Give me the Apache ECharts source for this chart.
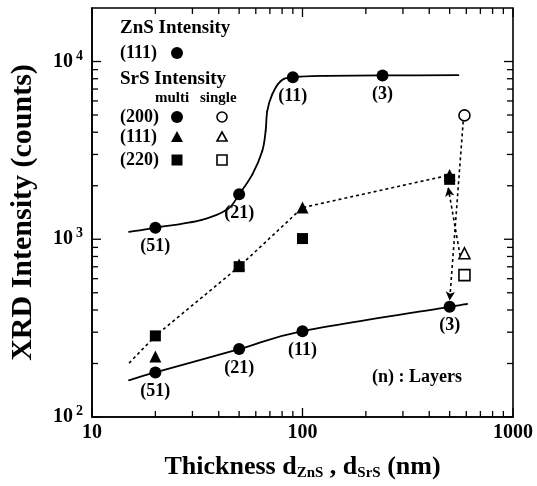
<!DOCTYPE html>
<html>
<head>
<meta charset="utf-8">
<script src="https://cdn.jsdelivr.net/npm/echarts@6/dist/echarts.min.js"></script>
<style>html,body{margin:0;padding:0;background:#fff}#c{width:537px;height:486px}</style>
</head>
<body>
<div id="c"></div>
<script>
// ---- data ----
const layers = [51, 21, 11, 3];

// ZnS (111) intensity, multilayer
const znsX = [20, 50, 90, 240];
const znsY = [1160, 1790, 8160, 8350];
// fitted guide curve for ZnS
const znsCurveX = [15, 20, 33, 44, 50, 57.8, 64.4, 66.8, 68, 71.8, 78.7, 90, 130, 240, 550];
const znsCurveY = [1100, 1160, 1283, 1474, 1790, 2318, 3134, 4058, 5256, 6527, 7749, 8160, 8300, 8350, 8380];

// SrS (200) multi
const srs200X = [20, 50, 100, 500];
const srs200Y = [178, 241, 304, 417];
const srsCurveX = [15, 20, 50, 100, 500, 600];
const srsCurveY = [161, 178, 241, 304, 417, 431];

// SrS (111) multi
const srs111X = [20, 50, 100, 500];
const srs111Y = [219, 720, 1507, 2297];
// SrS (220) multi
const srs220X = [20, 50, 100, 500];
const srs220Y = [286, 701, 1009, 2173];
// dotted guide through the multilayer SrS points
const guideX = [15, 20, 50, 100, 500];
const guideY = [201, 286, 701, 1507, 2297];

// single layer SrS
const singleX = 588;
const single200Y = 4975;
const single111Y = 834;
const single220Y = 628;

// arrows (start -> end)
const arrow1 = [[580, 4600], [500, 452]];
const arrow2 = [[561, 806], [492, 1960]];

// axes
const xMin = 10, xMax = 1000;
const yMin = 100, yMax = 20000;
const xDecades = [10, 100];
const yDecades = [100, 1000, 10000];
const minorMult = [2, 3, 4, 5, 6, 7, 8, 9];

const FONT = '"Liberation Serif", "Times New Roman", serif';

function zip(a, b) { return a.map((v, i) => [v, b[i]]); }

const xTicks = [];
xDecades.forEach(d => { xTicks.push([d, 0]); minorMult.forEach(m => xTicks.push([d * m, 1])); });
xTicks.push([1000, 0]);
const yTicks = [];
yDecades.forEach(d => { yTicks.push([d, 0]); minorMult.forEach(m => { if (d * m < yMax) yTicks.push([d * m, 1]); }); });

const chart = echarts.init(document.getElementById('c'), null, { renderer: 'canvas' });

function tickRender(isX) {
  return function (params, api) {
    const cs = params.coordSys;
    const v = api.value(0);
    const minor = api.value(1) === 1;
    const len = minor ? 6 : 9;
    const st = { stroke: '#000', lineWidth: 1.3 };
    if (isX) {
      const x = api.coord([v, 1000])[0];
      return { type: 'group', children: [
        { type: 'line', shape: { x1: x, y1: cs.y + cs.height, x2: x, y2: cs.y + cs.height - len }, style: st },
        { type: 'line', shape: { x1: x, y1: cs.y, x2: x, y2: cs.y + len }, style: st }
      ]};
    } else {
      const y = api.coord([100, v])[1];
      return { type: 'group', children: [
        { type: 'line', shape: { x1: cs.x, y1: y, x2: cs.x + len, y2: y }, style: st },
        { type: 'line', shape: { x1: cs.x + cs.width, y1: y, x2: cs.x + cs.width - len, y2: y }, style: st }
      ]};
    }
  };
}

// smooth curve (Catmull-Rom -> bezier), one segment per data item, positions through the axes
function curveRender(xs, ys) {
  return function (params, api) {
    const i = params.dataIndex;
    const n = xs.length;
    if (i >= n - 1) return null;
    const P = k => { const j = Math.max(0, Math.min(n - 1, k)); return api.coord([xs[j], ys[j]]); };
    const p0 = P(i - 1), p1 = P(i), p2 = P(i + 1), p3 = P(i + 2);
    const t = 1 / 6;
    return {
      type: 'bezierCurve',
      shape: {
        x1: p1[0], y1: p1[1], x2: p2[0], y2: p2[1],
        cpx1: p1[0] + (p2[0] - p0[0]) * t, cpy1: p1[1] + (p2[1] - p0[1]) * t,
        cpx2: p2[0] - (p3[0] - p1[0]) * t, cpy2: p2[1] - (p3[1] - p1[1]) * t
      },
      style: { stroke: '#000', lineWidth: 1.8, fill: null, lineCap: 'round' }
    };
  };
}

const layerLabel = {
  show: true, position: 'bottom', distance: 4, color: '#000',
  fontFamily: FONT, fontWeight: 'bold', fontSize: 18,
  formatter: p => '(' + layers[p.dataIndex] + ')'
};

const dotted = { color: '#000', width: 1.6, type: [3, 3] };
const filled = { color: '#000', opacity: 1 };
const hollow = { color: '#fff', borderColor: '#000', borderWidth: 1.6, opacity: 1 };

const option = {
  backgroundColor: '#fff',
  animation: false,
  grid: { left: 91, right: 24, top: 8, bottom: 68, show: true, borderColor: '#000', borderWidth: 1.6, backgroundColor: 'transparent' },
  xAxis: {
    type: 'log', min: xMin, max: xMax, logBase: 10,
    axisLine: { show: true, lineStyle: { color: '#000', width: 1.6 } },
    axisTick: { show: false }, splitLine: { show: false },
    axisLabel: {
      color: '#000', fontFamily: FONT, fontWeight: 'bold', fontSize: 20, margin: 6,
      formatter: v => { const e = Math.log10(v); return Math.abs(e - Math.round(e)) < 1e-6 ? String(Math.round(v)) : ''; }
    },
    name: '{a|Thickness d}{s|ZnS}{a| , d}{s|SrS}{a| (nm)}',
    nameLocation: 'middle', nameGap: 37,
    nameTextStyle: {
      rich: {
        a: { fontFamily: FONT, fontWeight: 'bold', fontSize: 26, color: '#000' },
        s: { fontFamily: FONT, fontWeight: 'bold', fontSize: 15, color: '#000', padding: [12, 0, 0, 0] }
      }
    }
  },
  yAxis: {
    type: 'log', min: yMin, max: yMax, logBase: 10,
    axisLine: { show: true, lineStyle: { color: '#000', width: 1.6 } },
    axisTick: { show: false }, splitLine: { show: false },
    axisLabel: {
      color: '#000', margin: 9, showMaxLabel: false,
      formatter: v => { const e = Math.log10(v); if (Math.abs(e - Math.round(e)) > 1e-6) return ''; return '{b|10}{s|' + Math.round(e) + '}'; },
      rich: {
        b: { fontFamily: FONT, fontWeight: 'bold', fontSize: 20, color: '#000' },
        s: { fontFamily: FONT, fontWeight: 'bold', fontSize: 14, color: '#000', padding: [0, 0, 11, 3] }
      }
    },
    name: 'XRD Intensity (counts)',
    nameLocation: 'middle', nameGap: 54,
    nameTextStyle: { fontFamily: FONT, fontWeight: 'bold', fontSize: 30, color: '#000' }
  },
  series: [
    { type: 'custom', renderItem: tickRender(true), data: xTicks, silent: true, z: 1 },
    { type: 'custom', renderItem: tickRender(false), data: yTicks, encode: { x: 1, y: 0 }, silent: true, z: 1 },
    { type: 'custom', renderItem: curveRender(znsCurveX, znsCurveY), data: zip(znsCurveX, znsCurveY), silent: true, z: 2 },
    { type: 'custom', renderItem: curveRender(srsCurveX, srsCurveY), data: zip(srsCurveX, srsCurveY), silent: true, z: 2 },
    { type: 'line', data: zip(guideX, guideY), symbol: 'none', lineStyle: dotted, z: 2,
      markLine: {
        silent: true, symbol: ['none', 'arrow'], symbolSize: [7, 9], label: { show: false },
        lineStyle: dotted,
        data: [
          [{ coord: arrow1[0] }, { coord: arrow1[1] }],
          [{ coord: arrow2[0] }, { coord: arrow2[1] }]
        ]
      }
    },
    { type: 'scatter', data: zip(znsX, znsY), symbol: 'circle', symbolSize: 12, itemStyle: filled, label: layerLabel, z: 5 },
    { type: 'scatter', data: zip(srs200X, srs200Y), symbol: 'circle', symbolSize: 12, itemStyle: filled, label: layerLabel, z: 5 },
    { type: 'scatter', data: zip(srs111X, srs111Y), symbol: 'triangle', symbolSize: 12, itemStyle: filled, z: 5 },
    { type: 'scatter', data: zip(srs220X, srs220Y), symbol: 'rect', symbolSize: 11, itemStyle: filled, z: 5 },
    { type: 'scatter', data: [[singleX, single200Y]], symbol: 'circle', symbolSize: 11, itemStyle: hollow, z: 5 },
    { type: 'scatter', data: [[singleX, single111Y]], symbol: 'triangle', symbolSize: 11, itemStyle: hollow, z: 5 },
    { type: 'scatter', data: [[singleX, single220Y]], symbol: 'rect', symbolSize: 11, itemStyle: hollow, z: 5 }
  ],
  graphic: []
};

// legend drawn inside the plot (top-left)
const tStyle = (txt, x, y, size) => ({ type: 'text', x: x, y: y, z: 100, style: { text: txt, fill: '#000', font: 'bold ' + size + 'px ' + FONT, textVerticalAlign: 'middle' } });
const g = option.graphic;
g.push(tStyle('ZnS Intensity', 120, 28, 19));
g.push(tStyle('(111)', 120, 53, 18));
g.push({ type: 'circle', z: 100, shape: { cx: 177, cy: 53, r: 6 }, style: { fill: '#000' } });
g.push(tStyle('SrS Intensity', 120, 79, 19));
g.push(tStyle('multi', 155, 98, 15));
g.push(tStyle('single', 200, 98, 15));
const rowsY = [117, 137, 160];
const rowNames = ['(200)', '(111)', '(220)'];
rowNames.forEach((n, i) => g.push(tStyle(n, 120, rowsY[i], 18)));
g.push({ type: 'circle', z: 100, shape: { cx: 177, cy: rowsY[0], r: 6 }, style: { fill: '#000' } });
g.push({ type: 'circle', z: 100, shape: { cx: 222, cy: rowsY[0], r: 5 }, style: { fill: '#fff', stroke: '#000', lineWidth: 1.6 } });
g.push({ type: 'polygon', z: 100, shape: { points: [[177, rowsY[1] - 6], [183, rowsY[1] + 5], [171, rowsY[1] + 5]] }, style: { fill: '#000' } });
g.push({ type: 'polygon', z: 100, shape: { points: [[222, rowsY[1] - 5], [227, rowsY[1] + 4], [217, rowsY[1] + 4]] }, style: { fill: '#fff', stroke: '#000', lineWidth: 1.6 } });
g.push({ type: 'rect', z: 100, shape: { x: 171.5, y: rowsY[2] - 5.5, width: 11, height: 11 }, style: { fill: '#000' } });
g.push({ type: 'rect', z: 100, shape: { x: 217, y: rowsY[2] - 5, width: 10, height: 10 }, style: { fill: '#fff', stroke: '#000', lineWidth: 1.6 } });
g.push(tStyle('(n) : Layers', 372, 377, 18));

chart.setOption(option);
</script>
</body>
</html>
